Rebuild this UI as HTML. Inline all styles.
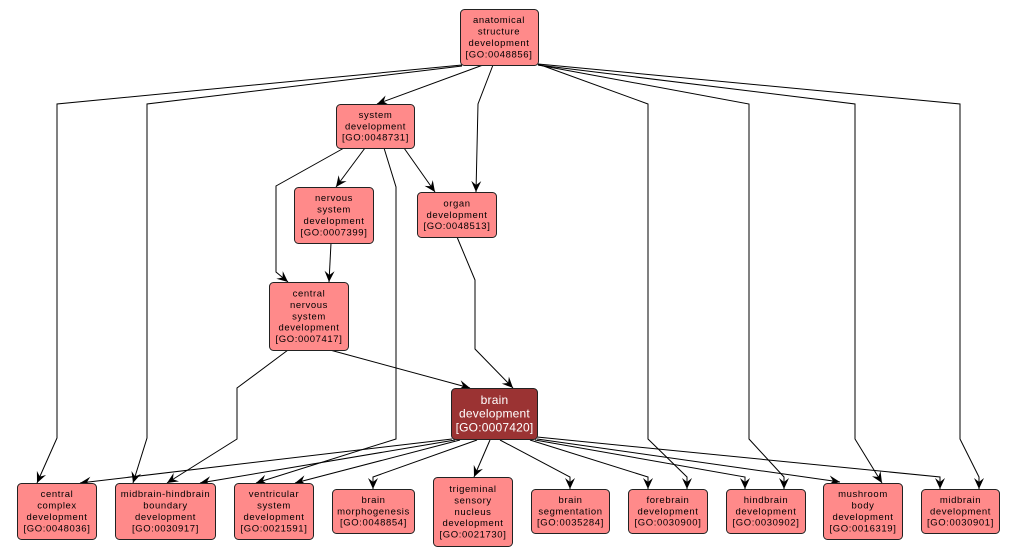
<!DOCTYPE html>
<html><head><meta charset="utf-8"><style>
html,body{margin:0;padding:0;background:#fff;}
svg{display:block;}
text{font-family:"Liberation Sans",sans-serif;font-size:9.5px;letter-spacing:0.6px;fill:#000;text-anchor:middle;}
.n{fill:#ff8a8a;stroke:#222;stroke-width:1;}
.e{fill:none;stroke:#000;stroke-width:1;}
</style></head><body>
<svg width="1018" height="556" viewBox="0 0 1018 556" xmlns="http://www.w3.org/2000/svg">
<defs>
<marker id="ar" markerUnits="userSpaceOnUse" markerWidth="14" markerHeight="12" viewBox="-12 -6 14 12" refX="0" refY="0" orient="auto">
<path d="M0,0 L-11,-5 L-7,0 L-11,5 Z" fill="#000"/>
</marker>
</defs>
<g class="e" marker-end="url(#ar)">
<path d="M462,65 L57,104 L57,438 L37,483"/>
<path d="M462,66 L147,104 L147,438 L133,483"/>
<path d="M483,65 L377,104"/>
<path d="M493,65 L478,104 L476,192"/>
<path d="M538,64 L648,104 L648,439 L687,477 L687,489"/>
<path d="M538,65 L749,104 L749,439 L784,477 L784,489"/>
<path d="M538,65 L855,104 L855,439 L882,483"/>
<path d="M538,64 L960,104 L960,439 L979,477 L979,489"/>
<path d="M365,148 L336,187"/>
<path d="M404,148 L435,192"/>
<path d="M344,148 L276,186 L276,272 L288,282"/>
<path d="M384,148 L396,187 L396,439 L256,483"/>
<path d="M331,243 L329,282"/>
<path d="M457,237 L475,280 L475,349 L513,388"/>
<path d="M330,350 L470,388"/>
<path d="M288,350 L237,388 L237,439 L167,483"/>
<path d="M452,439 L80,483"/>
<path d="M455,440 L200,483"/>
<path d="M460,440 L295,483"/>
<path d="M477,440 L373,477 L373,489"/>
<path d="M490,440 L474,477"/>
<path d="M500,440 L570,477 L570,489"/>
<path d="M530,440 L648,477 L648,489"/>
<path d="M535,440 L745,477 L745,489"/>
<path d="M537,439 L840,482"/>
<path d="M537,437 L940,477 L940,489"/>
</g>

<!-- nodes -->
<rect class="n" x="460.5" y="9.5" width="78" height="56" rx="4"/>
<text x="499"><tspan x="499" y="23.2">anatomical</tspan><tspan x="499" y="34.6">structure</tspan><tspan x="499" y="46">development</tspan><tspan x="499" y="57.4">[GO:0048856]</tspan></text>

<rect class="n" x="336.5" y="104.5" width="78" height="44" rx="4"/>
<text><tspan x="375.5" y="117.9">system</tspan><tspan x="375.5" y="129.3">development</tspan><tspan x="375.5" y="140.7">[GO:0048731]</tspan></text>

<rect class="n" x="294.5" y="187.5" width="79" height="56" rx="4"/>
<text><tspan x="334" y="201.2">nervous</tspan><tspan x="334" y="212.6">system</tspan><tspan x="334" y="224">development</tspan><tspan x="334" y="235.4">[GO:0007399]</tspan></text>

<rect class="n" x="417.5" y="192.5" width="79" height="45" rx="4"/>
<text><tspan x="457" y="206.4">organ</tspan><tspan x="457" y="217.8">development</tspan><tspan x="457" y="229.2">[GO:0048513]</tspan></text>

<rect class="n" x="269.5" y="282.5" width="79" height="68" rx="4"/>
<text><tspan x="309" y="296.5">central</tspan><tspan x="309" y="307.9">nervous</tspan><tspan x="309" y="319.3">system</tspan><tspan x="309" y="330.7">development</tspan><tspan x="309" y="342.1">[GO:0007417]</tspan></text>

<rect x="451.5" y="388.5" width="86" height="51" rx="4" fill="#9b3333" stroke="#222" stroke-width="1"/>
<text style="font-size:12px;letter-spacing:0.2px;fill:#fff"><tspan x="494.5" y="404">brain</tspan><tspan x="494.5" y="417.7">development</tspan><tspan x="494.5" y="431.4">[GO:0007420]</tspan></text>

<rect class="n" x="17.5" y="483.5" width="79" height="56" rx="4"/>
<text><tspan x="57" y="497.2">central</tspan><tspan x="57" y="508.6">complex</tspan><tspan x="57" y="520">development</tspan><tspan x="57" y="531.4">[GO:0048036]</tspan></text>

<rect class="n" x="115.5" y="483.5" width="100" height="56" rx="4"/>
<text><tspan x="165.5" y="497.2">midbrain-hindbrain</tspan><tspan x="165.5" y="508.6">boundary</tspan><tspan x="165.5" y="520">development</tspan><tspan x="165.5" y="531.4">[GO:0030917]</tspan></text>

<rect class="n" x="234.5" y="483.5" width="79" height="56" rx="4"/>
<text><tspan x="274" y="497.2">ventricular</tspan><tspan x="274" y="508.6">system</tspan><tspan x="274" y="520">development</tspan><tspan x="274" y="531.4">[GO:0021591]</tspan></text>

<rect class="n" x="332.5" y="489.5" width="82" height="44" rx="4"/>
<text><tspan x="373.5" y="502.9">brain</tspan><tspan x="373.5" y="514.3">morphogenesis</tspan><tspan x="373.5" y="525.7">[GO:0048854]</tspan></text>

<rect class="n" x="433.5" y="477.5" width="79" height="69" rx="4"/>
<text><tspan x="473" y="492">trigeminal</tspan><tspan x="473" y="503.4">sensory</tspan><tspan x="473" y="514.8">nucleus</tspan><tspan x="473" y="526.2">development</tspan><tspan x="473" y="537.6">[GO:0021730]</tspan></text>

<rect class="n" x="531.5" y="489.5" width="78" height="44" rx="4"/>
<text><tspan x="570.5" y="502.9">brain</tspan><tspan x="570.5" y="514.3">segmentation</tspan><tspan x="570.5" y="525.7">[GO:0035284]</tspan></text>

<rect class="n" x="628.5" y="489.5" width="79" height="44" rx="4"/>
<text><tspan x="668" y="502.9">forebrain</tspan><tspan x="668" y="514.3">development</tspan><tspan x="668" y="525.7">[GO:0030900]</tspan></text>

<rect class="n" x="726.5" y="489.5" width="79" height="44" rx="4"/>
<text><tspan x="766" y="502.9">hindbrain</tspan><tspan x="766" y="514.3">development</tspan><tspan x="766" y="525.7">[GO:0030902]</tspan></text>

<rect class="n" x="823.5" y="483.5" width="79" height="56" rx="4"/>
<text><tspan x="863" y="497.2">mushroom</tspan><tspan x="863" y="508.6">body</tspan><tspan x="863" y="520">development</tspan><tspan x="863" y="531.4">[GO:0016319]</tspan></text>

<rect class="n" x="921.5" y="489.5" width="78" height="44" rx="4"/>
<text><tspan x="960.5" y="502.9">midbrain</tspan><tspan x="960.5" y="514.3">development</tspan><tspan x="960.5" y="525.7">[GO:0030901]</tspan></text>
</svg>
</body></html>
